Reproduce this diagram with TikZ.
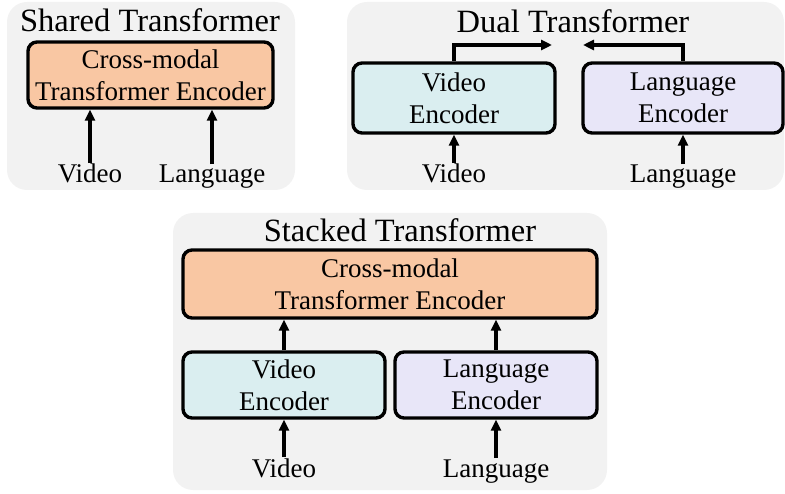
\documentclass[tikz,border=0pt]{standalone}
\usepackage{fontspec}
\setmainfont{Liberation Serif}
\usetikzlibrary{arrows.meta,positioning,calc}
\definecolor{panelgray}{HTML}{F2F2F2}
\definecolor{crossfill}{HTML}{F9C7A3}
\definecolor{videofill}{HTML}{DAEEF0}
\definecolor{langfill}{HTML}{E8E6F8}

\begin{document}
\begin{tikzpicture}[
  x=1pt, y=-1pt,
  >={Triangle[length=11pt,width=10pt]},
  every node/.style={font=\fontsize{27}{32}\selectfont},
  panel/.style={fill=panelgray, rounded corners=20pt, inner sep=0pt},
  title/.style={font=\fontsize{32.5}{38}\selectfont, anchor=base, inner sep=0pt},
  enc/.style={draw, line width=3.4pt, rounded corners=9pt, align=center, inner sep=0pt},
  io/.style={anchor=base, inner sep=1pt},
  flow/.style={->, line width=3.4pt}
]
\useasboundingbox (0,0) rectangle (785,494);

% panels
\node[panel, minimum width=288pt, minimum height=188pt] (sharedP) at (151,96) {};
\node[panel, minimum width=437pt, minimum height=188pt] (dualP) at (565.5,96) {};
\node[panel, minimum width=434pt, minimum height=277pt] (stackP) at (390,351.5) {};

% shared transformer
\node[title] (sharedT) at (150,32) {Shared Transformer};
\node[enc, fill=crossfill, minimum width=245pt, minimum height=66pt] (cross1) at (150.5,75) {Cross-modal\\Transformer Encoder};
\node[io] (vid1) at (90,183) {Video};
\node[io] (lang1) at (212,183) {Language};
\draw[flow] (vid1.north) -- (vid1.north |- cross1.south);
\draw[flow] (lang1.north) -- (lang1.north |- cross1.south);

% dual transformer
\node[title] (dualT) at (573,33) {Dual Transformer};
\node[enc, fill=videofill, minimum width=202pt, minimum height=70pt] (venc2) at (454,98) {Video\\Encoder};
\node[enc, fill=langfill, minimum width=200pt, minimum height=70pt] (lenc2) at (683,98) {Language\\Encoder};
\node[io] (vid2) at (454,183) {Video};
\node[io] (lang2) at (683,183) {Language};
\coordinate (meetL) at (552,45);
\coordinate (meetR) at (583,45);
\draw[flow] (vid2.north) -- (venc2.south);
\draw[flow] (lang2.north) -- (lenc2.south);
\draw[flow] (venc2.north) |- (meetL);
\draw[flow] (lenc2.north) |- (meetR);

% stacked transformer
\node[title] (stackT) at (400,242) {Stacked Transformer};
\node[enc, fill=crossfill, minimum width=414pt, minimum height=68pt] (cross3) at (390,284) {Cross-modal\\Transformer Encoder};
\node[enc, fill=videofill, minimum width=202pt, minimum height=66pt] (venc3) at (284,385) {Video\\Encoder};
\node[enc, fill=langfill, minimum width=202pt, minimum height=66pt] (lenc3) at (496,385) {Language\\Encoder};
\node[io] (vid3) at (284,477) {Video};
\node[io] (lang3) at (496,477) {Language};
\draw[flow] (venc3.north) -- (venc3.north |- cross3.south);
\draw[flow] (lenc3.north) -- (lenc3.north |- cross3.south);
\draw[flow] (vid3.north) -- (venc3.south);
\draw[flow] (lang3.north) -- (lenc3.south);

\end{tikzpicture}
\end{document}
